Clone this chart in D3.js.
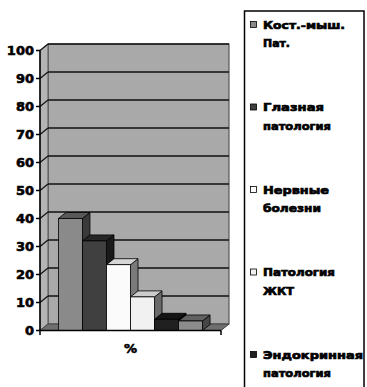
<!DOCTYPE html>
<html>
<head>
<meta charset="utf-8">
<script src="https://cdn.jsdelivr.net/npm/d3@7"></script>
<style>
  html, body { margin: 0; padding: 0; background: #fff; }
  svg { display: block; }
  text { font-family: "DejaVu Sans", sans-serif; font-weight: bold; fill: #000; stroke: #000; }
</style>
</head>
<body>
<svg id="chart" width="367" height="387"></svg>
<script>
// Distribution of pathologies, %
const category = "%";
const seriesNames = [
  ["Кост.-мыш.", "Пат."],
  ["Глазная", "патология"],
  ["Нервные", "болезни"],
  ["Патология", "ЖКТ"],
  ["Эндокринная", "патология"],
  ["Прочие"]
];
const seriesValues = [40, 32, 23.5, 12, 4, 3.4];
const yTicks = [0, 10, 20, 30, 40, 50, 60, 70, 80, 90, 100];

// front / top / side shades per series
const frontFill = ["#8a8a8a", "#404040", "#fbfbfb", "#f1f1f1", "#202020", "#8c8c8c"];
const topFill   = ["#595959", "#262626", "#d6d6d6", "#cccccc", "#141414", "#626262"];
const sideFill  = ["#3a3a3a", "#1a1a1a", "#7a7a7a", "#6a6a6a", "#0a0a0a", "#474747"];

const W = 367, H = 387;
const svg = d3.select("#chart");

// plot geometry
const x0 = 40, x1 = 221;          // front edge of the floor
const depthX = 8, depthY = -6.5;  // wall depth offset
const barDX = 7.5, barDY = -6;    // bar depth offset

const y = d3.scaleLinear().domain([0, 100]).range([330.5, 50.5]);

const xCat = d3.scaleBand().domain([category]).range([x0, x1])
  .paddingInner(0).paddingOuter(0.128);
const xSer = d3.scaleBand().domain(d3.range(seriesValues.length))
  .range([0, xCat.bandwidth()]);

const poly = pts => "M" + pts.map(p => p.join(",")).join("L") + "Z";

// walls
const wall = svg.append("g");
// back wall
wall.append("path")
  .attr("d", poly([[x0 + depthX, y(100) + depthY], [x1 + depthX, y(100) + depthY],
                   [x1 + depthX, y(0) + depthY], [x0 + depthX, y(0) + depthY]]))
  .attr("fill", "#a9a9a9").attr("stroke", "#555").attr("stroke-width", 1.2);
// left wall
wall.append("path")
  .attr("d", poly([[x0, y(100)], [x0 + depthX, y(100) + depthY],
                   [x0 + depthX, y(0) + depthY], [x0, y(0)]]))
  .attr("fill", "#b4b4b4").attr("stroke", "#555").attr("stroke-width", 1);
// floor
wall.append("path")
  .attr("d", poly([[x0, y(0)], [x0 + depthX, y(0) + depthY],
                   [x1 + depthX, y(0) + depthY], [x1, y(0)]]))
  .attr("fill", "#6f6f6f").attr("stroke", "#444").attr("stroke-width", 1);

// gridlines: back wall and left wall
yTicks.filter(v => v > 0).forEach(v => {
  wall.append("line")
    .attr("x1", x0 + depthX).attr("x2", x1 + depthX)
    .attr("y1", y(v) + depthY).attr("y2", y(v) + depthY)
    .attr("stroke", "#111").attr("stroke-width", 1.4);
  wall.append("line")
    .attr("x1", x0).attr("x2", x0 + depthX)
    .attr("y1", y(v)).attr("y2", y(v) + depthY)
    .attr("stroke", "#111").attr("stroke-width", 1.2);
});

// bars (left to right so each front face covers the previous side)
const bars = svg.append("g");
seriesValues.forEach((v, i) => {
  const bx = xCat(category) + xSer(i);
  const bw = xSer.bandwidth();
  const top = y(v), base = y(0);
  const g = bars.append("g");
  g.append("path")
    .attr("d", poly([[bx + bw, top], [bx + bw + barDX, top + barDY],
                     [bx + bw + barDX, base + barDY], [bx + bw, base]]))
    .attr("fill", sideFill[i]).attr("stroke", "#000").attr("stroke-width", 0.8);
  g.append("path")
    .attr("d", poly([[bx, top], [bx + barDX, top + barDY],
                     [bx + bw + barDX, top + barDY], [bx + bw, top]]))
    .attr("fill", topFill[i]).attr("stroke", "#000").attr("stroke-width", 0.8);
  g.append("rect")
    .attr("x", bx).attr("y", top).attr("width", bw).attr("height", base - top)
    .attr("fill", frontFill[i]).attr("stroke", "#000").attr("stroke-width", 0.8);
});

// value axis
const axis = svg.append("g");
axis.append("line").attr("x1", x0).attr("x2", x0)
  .attr("y1", y(100)).attr("y2", y(0))
  .attr("stroke", "#000").attr("stroke-width", 1.5);
yTicks.forEach(v => {
  axis.append("line").attr("x1", x0 - 4).attr("x2", x0)
    .attr("y1", y(v)).attr("y2", y(v))
    .attr("stroke", "#000").attr("stroke-width", 1.5);
  axis.append("text").attr("x", 34).attr("y", y(v) + 4.5)
    .attr("text-anchor", "end").attr("font-size", 13)
    .attr("stroke-width", 0.6)
    .text(v);
});

// category axis
axis.append("line").attr("x1", x0).attr("x2", x1)
  .attr("y1", y(0)).attr("y2", y(0))
  .attr("stroke", "#000").attr("stroke-width", 1.5);
[x0, x1].forEach(xx => {
  axis.append("line").attr("x1", xx).attr("x2", xx)
    .attr("y1", y(0)).attr("y2", y(0) + 4.5)
    .attr("stroke", "#000").attr("stroke-width", 1.5);
});
axis.append("text")
  .attr("x", xCat(category) + xCat.bandwidth() / 2).attr("y", 353)
  .attr("text-anchor", "middle").attr("font-size", 13)
  .attr("stroke-width", 0.6)
  .text(category);

// legend (the frame runs past the bottom edge of the page)
const lg = svg.append("g");
lg.append("path")
  .attr("d", `M244.5,${H} L244.5,11 L364,11 L364,${H}`)
  .attr("fill", "#fff").attr("stroke", "#000").attr("stroke-width", 1.5);

const lineWidths = {
  "Кост.-мыш.": 82, "Пат.": 27, "Глазная": 61, "патология": 68,
  "Нервные": 66, "болезни": 58, "Патология": 72, "ЖКТ": 31,
  "Эндокринная": 100, "Прочие": 52
};
seriesNames.forEach((lines, i) => {
  const base = 28.5 + i * 82.5;
  if (base + (lines.length - 1) * 18.5 + 4 > H) return;
  lg.append("rect")
    .attr("x", 250.5).attr("y", base - 7).attr("width", 6).attr("height", 6)
    .attr("fill", frontFill[i]).attr("stroke", "#000").attr("stroke-width", 0.8);
  lines.forEach((t, j) => {
    lg.append("text")
      .attr("x", 263).attr("y", base + j * 18.5)
      .attr("font-size", 11)
      .attr("stroke-width", 0.7)
      .attr("textLength", lineWidths[t])
      .attr("lengthAdjust", "spacingAndGlyphs")
      .text(t);
  });
});
</script>
</body>
</html>
